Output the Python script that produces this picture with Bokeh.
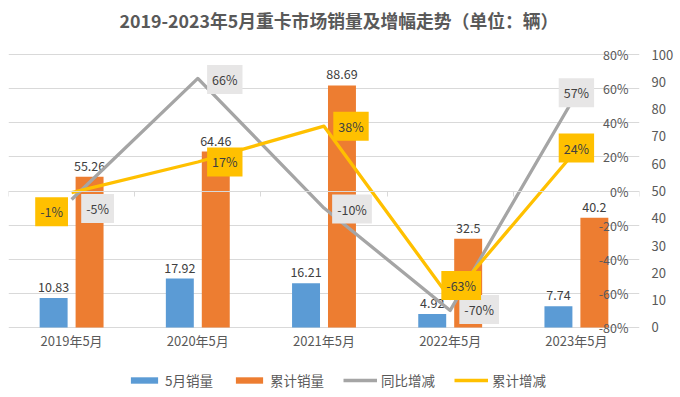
from bokeh.plotting import figure
from bokeh.models import (ColumnDataSource, FactorRange, Range1d, LinearAxis, FixedTicker,
                          PrintfTickFormatter, Legend, LegendItem)
from bokeh.transform import dodge
from bokeh.core.properties import value
from bokeh.embed import file_html
from bokeh.resources import INLINE

# ---------------- data ----------------
categories = ["2019年5月", "2020年5月", "2021年5月", "2022年5月", "2023年5月"]
may_sales = [10.83, 17.92, 16.21, 4.92, 7.74]        # 5月销量
cum_sales = [55.26, 64.46, 88.69, 32.5, 40.2]        # 累计销量
yoy_pct = [-5, 66, -10, -70, 57]                     # 同比增减 (%)
cum_pct = [-1, 17, 38, -63, 24]                      # 累计增减 (%)
pct_ticks = [-80, -60, -40, -20, 0, 20, 40, 60, 80]
vol_ticks = [0, 10, 20, 30, 40, 50, 60, 70, 80, 90, 100]
slot_edges = [0, 1, 2, 3, 4, 5]

# label placement (screen px offsets, styling only)
yoy_dx = [26, 27, 28, 29, 0]
yoy_dy = [9, 1, 1, -1, -1]
cum_dx = [-20, 27, 27, 11, 0]
cum_dy = [19, 0, 0, -13, -2]

FONT = "Noto Sans CJK SC"
AX_COLOR = "#595959"
LBL_COLOR = "#404040"
GRID = "#D9D9D9"
BLUE, ORANGE, GRAY, YELLOW = "#5B9BD5", "#ED7D31", "#A5A5A5", "#FFC000"

# axis extents; the frame is padded (in % units) so that the category labels and
# legend sit inside it; the volume axis is scaled to share the same gridlines
PCT_LO, PCT_HI = -80, 80
VOL_LO, VOL_HI = 0, 100
PAD_TOP, PAD_BOTTOM = 11.14, 38.1
K = (VOL_HI - VOL_LO) / (PCT_HI - PCT_LO)

src = ColumnDataSource(dict(
    cat=categories, may=may_sales, cum=cum_sales, yoy=yoy_pct, cp=cum_pct,
    may_txt=[f"{v:g}" for v in may_sales], cum_txt=[f"{v:g}" for v in cum_sales],
    yoy_txt=[f"{v}%" for v in yoy_pct], cp_txt=[f"{v}%" for v in cum_pct],
    yoy_dx=yoy_dx, yoy_dy=yoy_dy, cum_dx=cum_dx, cum_dy=cum_dy,
))

p = figure(x_range=FactorRange(factors=categories),
           y_range=Range1d(PCT_LO - PAD_BOTTOM, PCT_HI + PAD_TOP),
           width=680, height=397, output_backend="svg", toolbar_location=None,
           min_border_left=8, min_border_right=41, min_border_top=35, min_border_bottom=5,
           outline_line_color=None, background_fill_color="white")

p.title.text = "2019-2023年5月重卡市场销量及增幅走势（单位：辆）"
p.title.align = "left"
p.title.offset = 111
p.title.standoff = 5
p.title.text_font = FONT
p.title.text_font_size = "17.8px"
p.title.text_font_style = "bold"
p.title.text_color = AX_COLOR

p.extra_y_ranges = {"vol": Range1d(VOL_LO - PAD_BOTTOM * K, VOL_HI + PAD_TOP * K)}

# percent axis (drawn at right edge of frame, labels inside)
pct_ticker = FixedTicker(ticks=pct_ticks)
ya = p.yaxis[0]
ya.ticker = pct_ticker
ya.formatter = PrintfTickFormatter(format="%d%%")
ya.fixed_location = 5
ya.axis_line_color = None
ya.major_tick_line_color = None
ya.minor_tick_line_color = None
ya.major_tick_out = 0
ya.major_tick_in = 0
ya.major_label_standoff = 11
ya.major_label_text_font = FONT
ya.major_label_text_font_size = "12.5px"
ya.major_label_text_color = AX_COLOR
p.ygrid.ticker = pct_ticker
p.ygrid.grid_line_color = GRID
p.xgrid.grid_line_color = None

# volume axis on the right
va = LinearAxis(y_range_name="vol", ticker=FixedTicker(ticks=vol_ticks))
va.axis_line_color = None
va.major_tick_line_color = None
va.minor_tick_line_color = None
va.major_tick_out = 0
va.major_tick_in = 0
va.major_label_standoff = 12
va.major_label_text_font = FONT
va.major_label_text_font_size = "13px"
va.major_label_text_color = AX_COLOR
p.add_layout(va, "right")

# 0% crossing axis with slot ticks
za = LinearAxis(ticker=FixedTicker(ticks=slot_edges))
za.fixed_location = 0
za.axis_line_color = GRID
za.major_tick_line_color = GRID
za.major_tick_out = 5
za.major_tick_in = 0
za.minor_tick_line_color = None
za.major_label_text_color = None
za.major_label_text_font_size = "1px"
p.add_layout(za, "below")

# category axis placed on the -80% baseline
xa = p.xaxis[0]
xa.fixed_location = PCT_LO
xa.axis_line_color = None
xa.major_tick_line_color = None
xa.minor_tick_line_color = None
xa.major_tick_out = 0
xa.major_tick_in = 0
xa.major_label_standoff = 4
xa.major_label_text_font = FONT
xa.major_label_text_font_size = "13px"
xa.major_label_text_color = AX_COLOR

# bars
bw = 0.2215
b1 = p.vbar(x=dodge("cat", -0.1424, range=p.x_range), top="may", bottom=0, width=bw,
            y_range_name="vol", source=src, fill_color=BLUE, line_color=None)
b2 = p.vbar(x=dodge("cat", 0.1424, range=p.x_range), top="cum", bottom=0, width=bw,
            y_range_name="vol", source=src, fill_color=ORANGE, line_color=None)

p.text(x=dodge("cat", -0.1424, range=p.x_range), y="may", text="may_txt", y_range_name="vol",
       source=src, y_offset=-6, text_align="center", text_baseline="bottom",
       text_font=value(FONT), text_font_size="12.5px", text_color=LBL_COLOR)
p.text(x=dodge("cat", 0.1424, range=p.x_range), y="cum", text="cum_txt", y_range_name="vol",
       source=src, y_offset=-6, text_align="center", text_baseline="bottom",
       text_font=value(FONT), text_font_size="12.5px", text_color=LBL_COLOR)

# lines
l1 = p.line(x="cat", y="yoy", source=src, line_color=GRAY, line_width=3.3, line_join="round")
l2 = p.line(x="cat", y="cp", source=src, line_color=YELLOW, line_width=3.3, line_join="round")

# line labels with boxes
p.text(x="cat", y="yoy", text="yoy_txt", source=src, x_offset="yoy_dx", y_offset="yoy_dy",
       text_align="center", text_baseline="middle", text_font=value(FONT),
       text_font_size="12.5px", text_color=LBL_COLOR,
       background_fill_color="#E7E6E6", padding=5)
p.text(x="cat", y="cp", text="cp_txt", source=src, x_offset="cum_dx", y_offset="cum_dy",
       text_align="center", text_baseline="middle", text_font=value(FONT),
       text_font_size="12.5px", text_color=LBL_COLOR,
       background_fill_color=YELLOW, padding=5)

legend = Legend(items=[
    LegendItem(label="5月销量", renderers=[b1]),
    LegendItem(label="累计销量", renderers=[b2]),
    LegendItem(label="同比增减", renderers=[l1]),
    LegendItem(label="累计增减", renderers=[l2]),
], orientation="horizontal", location=(119, 2), padding=0, margin=0,
    glyph_width=34, glyph_height=8, label_height=20, label_standoff=4, spacing=19,
    border_line_color=None, background_fill_alpha=0,
    label_text_font=FONT, label_text_font_size="13.5px", label_text_color=AX_COLOR)
p.add_layout(legend)

open("out.html", "w").write(file_html(p, INLINE))
